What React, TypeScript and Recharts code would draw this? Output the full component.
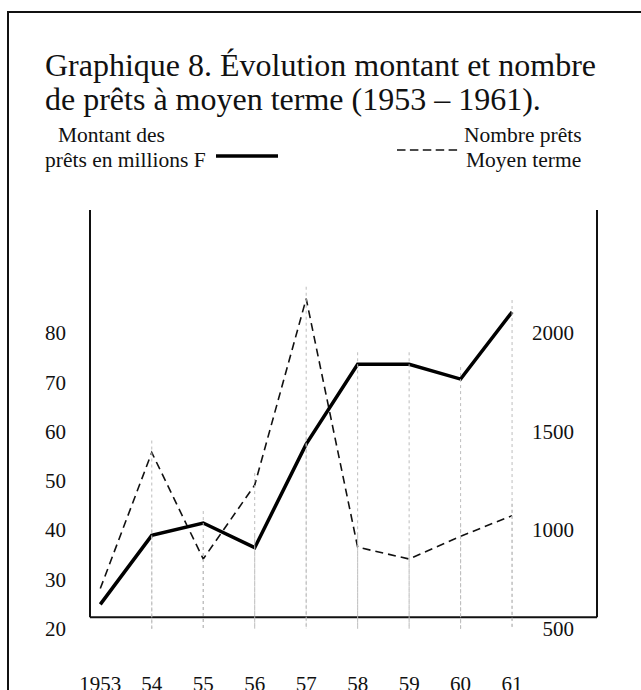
import React from 'react'
import { LineChart, Line, XAxis, YAxis, ReferenceLine } from 'recharts'

const YEARS = [1953, 1954, 1955, 1956, 1957, 1958, 1959, 1960, 1961]
const YEAR_LABELS = ['1953', '54', '55', '56', '57', '58', '59', '60', '61']
// montant des prêts, millions F (left axis)
const MONTANT = [25, 39, 41.5, 36.5, 57.5, 73.7, 73.7, 70.7, 84.3]
// nombre de prêts moyen terme (right axis)
const NOMBRE = [705, 1395, 855, 1230, 2175, 915, 855, 970, 1075]
const LEFT_TICKS = [20, 30, 40, 50, 60, 70, 80]
const RIGHT_TICKS = [500, 1000, 1500, 2000]

const LEFT_DOMAIN: [number, number] = [20, 105]
const RIGHT_DOMAIN: [number, number] = [500, 2625]
const X_DOMAIN: [number, number] = [1952.8, 1962.65]
const FLOOR = 22.4 // where the drawn base line sits on the left scale

const FONT = '"Liberation Serif", "Times New Roman", serif'

const data = YEARS.map((year, i) => ({ year, montant: MONTANT[i], nombre: NOMBRE[i] }))

const dropLine = (props: any) => {
    const { cx, cy, index } = props
    if (index === 0 || cx == null || cy == null) return <g key={'d' + index} />
    return (
        <line key={'d' + index} x1={cx} x2={cx} y1={cy - 12} y2={680}
            stroke="#bdbdbd" strokeWidth={1} strokeDasharray="3 3" />
    )
}

const LeftTick = (props: any) => (
    <text x={66} y={props.y + 7} textAnchor="end" fontFamily={FONT} fontSize={21} fill="#111">
        {props.payload.value}
    </text>
)

const RightTick = (props: any) => (
    <text x={574} y={props.y + 7} textAnchor="end" fontFamily={FONT} fontSize={21} fill="#111">
        {props.payload.value}
    </text>
)

const YearTick = (props: any) => {
    const i = YEARS.indexOf(props.payload.value)
    return (
        <text x={props.x} y={691} textAnchor="middle" fontFamily={FONT} fontSize={21} fill="#111">
            {YEAR_LABELS[i]}
        </text>
    )
}

const App: React.FC = () => {
    return (
        <div style={{ position: 'fixed', left: 0, top: 0, width: 641, height: 690, overflow: 'hidden', background: '#fff' }}>
            <div style={{ position: 'absolute', left: 7, top: 11, width: 640, height: 690, borderTop: '2px solid #111', borderLeft: '2px solid #111' }} />
            <div style={{ position: 'absolute', left: 0, top: 0 }}>
                <LineChart width={641} height={690} data={data}
                    margin={{ top: 210, right: 24, left: 50, bottom: 31 }}>
                    <XAxis dataKey="year" type="number" domain={X_DOMAIN} ticks={YEARS}
                        allowDataOverflow axisLine={false} tickLine={false} height={30} tick={<YearTick />} />
                    <YAxis yAxisId="left" domain={LEFT_DOMAIN} ticks={LEFT_TICKS} allowDataOverflow
                        axisLine={false} tickLine={false} width={40} tick={<LeftTick />} />
                    <YAxis yAxisId="right" orientation="right" domain={RIGHT_DOMAIN} ticks={RIGHT_TICKS} allowDataOverflow
                        axisLine={false} tickLine={false} width={20} tick={<RightTick />} />
                    <ReferenceLine yAxisId="left" stroke="#111" strokeWidth={2}
                        segment={[{ x: X_DOMAIN[0], y: FLOOR }, { x: X_DOMAIN[0], y: LEFT_DOMAIN[1] }]} />
                    <ReferenceLine yAxisId="left" stroke="#111" strokeWidth={2}
                        segment={[{ x: X_DOMAIN[0], y: FLOOR }, { x: X_DOMAIN[1], y: FLOOR }]} />
                    <ReferenceLine yAxisId="left" stroke="#111" strokeWidth={2}
                        segment={[{ x: X_DOMAIN[1], y: FLOOR }, { x: X_DOMAIN[1], y: LEFT_DOMAIN[1] }]} />
                    <Line yAxisId="left" dataKey="montant" stroke="none" dot={dropLine} activeDot={false} isAnimationActive={false} />
                    <Line yAxisId="right" dataKey="nombre" stroke="none" dot={dropLine} activeDot={false} isAnimationActive={false} />
                    <Line yAxisId="right" dataKey="nombre" type="linear" stroke="#111" strokeWidth={1.6}
                        strokeDasharray="8 5" dot={false} activeDot={false} isAnimationActive={false} />
                    <Line yAxisId="left" dataKey="montant" type="linear" stroke="#000" strokeWidth={3.5}
                        dot={false} activeDot={false} isAnimationActive={false} />
                </LineChart>
            </div>
            <svg width={641} height={200} style={{ position: 'absolute', left: 0, top: 0 }} fontFamily={FONT} fill="#111">
                <text x={45} y={76} fontSize={32}>Graphique 8. Évolution montant et nombre</text>
                <text x={45} y={110} fontSize={32}>de prêts à moyen terme (1953 – 1961).</text>
                <text x={58} y={142} fontSize={21.5}>Montant des</text>
                <text x={45} y={167} fontSize={21.5}>prêts en millions F</text>
                <line x1={216} x2={278} y1={156} y2={156} stroke="#000" strokeWidth={3.5} />
                <line x1={397} x2={458} y1={150} y2={150} stroke="#111" strokeWidth={1.6} strokeDasharray="8.5 4.4" />
                <text x={464} y={142} fontSize={21.5}>Nombre prêts</text>
                <text x={466} y={167} fontSize={21.5}>Moyen terme</text>
            </svg>
        </div>
    )
}

export default App
